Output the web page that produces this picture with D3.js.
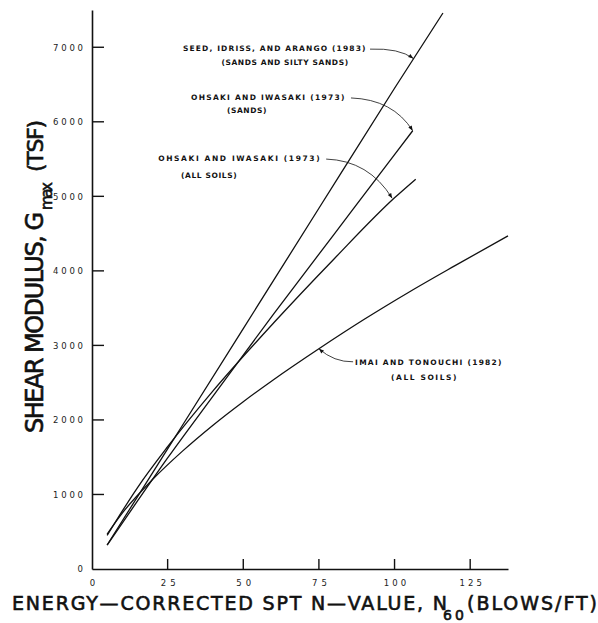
<!DOCTYPE html>
<html>
<head>
<meta charset="utf-8">
<script src="https://cdn.jsdelivr.net/npm/d3@7"></script>
<style>
  html, body { margin: 0; padding: 0; background: #fff; }
  svg { display: block; }
  .tick text { font-family: "DejaVu Sans", sans-serif; font-size: 8.5px; fill: #222; }
  .note { font-family: "DejaVu Sans", sans-serif; font-size: 7.5px; font-weight: bold; fill: #111; letter-spacing: 0.6px; }
  .title { font-family: "DejaVu Sans", sans-serif; fill: #111; stroke: #111; stroke-width: 0.6px; }
</style>
</head>
<body>
<div id="chart"></div>
<script>
// sizes
const WIDTH = 598;
const HEIGHT = 623;
const X0 = 92, X1 = 508;   // x axis pixel range
const Y0 = 569, Y1 = 10;   // y axis pixel range

// data (N60 in blows/ft, Gmax in tsf)
const xTicks = [0, 25, 50, 75, 100, 125];
const yTicks = [0, 1000, 2000, 3000, 4000, 5000, 6000, 7000];

const nSeed = [5, 25, 50, 75, 100, 116];
const gSeed = [322, 1612, 3225, 4840, 6450, 7460];

const nSands = [5, 15, 25, 40, 60, 80, 100, 106];
const gSands = [320, 910, 1490, 2320, 3420, 4490, 5560, 5880];

const nAll = [5, 15, 25, 40, 60, 80, 100, 107];
const gAll = [450, 1090, 1640, 2390, 3300, 4160, 4980, 5230];

const nImai = [5, 10, 20, 30, 40, 50, 60, 75, 90, 105, 120, 137.5];
const gImai = [469, 750, 1200, 1585, 1930, 2245, 2540, 2955, 3350, 3720, 4070, 4470];

const series = [
  { name: "seed", n: nSeed, g: gSeed },
  { name: "sands", n: nSands, g: gSands },
  { name: "all", n: nAll, g: gAll },
  { name: "imai", n: nImai, g: gImai }
];

// labels with leaders: start of leader, control point, tip (all in data units)
// text offsets are in pixels from the leader start
const notes = [
  { lines: ["SEED, IDRISS, AND ARANGO (1983)", "(SANDS AND SILTY SANDS)"],
    start: [91.9, 6975], ctrl: [101.5, 6990], tip: [106.2, 6850],
    text: [{ x: -4, y: 2, w: 183, anchor: "end" }, { x: -85, y: 16, anchor: "middle" }] },
  { lines: ["OHSAKI AND IWASAKI (1973)", "(SANDS)"],
    start: [85.6, 6320], ctrl: [99.5, 6300], tip: [106, 5880],
    text: [{ x: -6, y: 2, w: 154, anchor: "end" }, { x: -104, y: 15, anchor: "middle" }] },
  { lines: ["OHSAKI AND IWASAKI (1973)", "(ALL SOILS)"],
    start: [77.4, 5500], ctrl: [91.5, 5480], tip: [99.2, 4975],
    text: [{ x: -6, y: 2, w: 162, anchor: "end" }, { x: -117, y: 19, anchor: "middle" }] },
  { lines: ["IMAI AND TONOUCHI (1982)", "(ALL SOILS)"],
    start: [86.3, 2780], ctrl: [80, 2775], tip: [75, 2955],
    text: [{ x: 2, y: 3, w: 147, anchor: "start" }, { x: 71, y: 18, w: 66, anchor: "middle" }] }
];

const svg = d3
  .select("#chart")
  .append("svg")
  .attr("width", WIDTH)
  .attr("height", HEIGHT);

const x = d3.scaleLinear().domain([0, 137.5]).range([X0, X1]);
const y = d3.scaleLinear().domain([0, 7500]).range([Y0, Y1]);

// arrow head
svg.append("defs")
  .append("marker")
  .attr("id", "arrow")
  .attr("viewBox", "0 0 10 10")
  .attr("refX", 10)
  .attr("refY", 5)
  .attr("markerWidth", 7)
  .attr("markerHeight", 5)
  .attr("markerUnits", "userSpaceOnUse")
  .attr("orient", "auto")
  .append("path")
  .attr("d", "M0,1 L10,5 L0,9 z")
  .attr("fill", "#111");

// axes: labels from d3.axis, inward tick marks drawn separately
const fmt = d3.format("d");
const xAxis = d3.axisBottom(x).tickValues(xTicks).tickFormat(fmt)
  .tickSize(0).tickPadding(11);
const yAxis = d3.axisLeft(y).tickValues(yTicks).tickFormat(fmt)
  .tickSize(0).tickPadding(9);

const gx = svg.append("g").attr("transform", `translate(0,${Y0})`).call(xAxis);
const gy = svg.append("g").attr("transform", `translate(${X0},0)`).call(yAxis);

[gx, gy].forEach(g => {
  g.select(".domain").attr("stroke", "#111").attr("stroke-width", 1.6);
  g.selectAll(".tick text").each(function(d) {
    const s = fmt(d);
    if (s.length > 1) d3.select(this).attr("textLength", s.length * 7.5).attr("lengthAdjust", "spacing");
  });
});

const tickG = svg.append("g").attr("stroke", "#111").attr("stroke-width", 1.4);
tickG.selectAll("line.xt")
  .data(xTicks.filter(d => d > 0))
  .enter()
  .append("line")
  .attr("x1", d => x(d)).attr("x2", d => x(d))
  .attr("y1", Y0).attr("y2", Y0 - 10);
tickG.selectAll("line.yt")
  .data(yTicks.filter(d => d > 0))
  .enter()
  .append("line")
  .attr("x1", X0).attr("x2", X0 + 12)
  .attr("y1", d => y(d)).attr("y2", d => y(d));

// curves
const line = d3.line()
  .x(d => x(d[0]))
  .y(d => y(d[1]))
  .curve(d3.curveMonotoneX);

svg.append("g")
  .selectAll("path")
  .data(series)
  .enter()
  .append("path")
  .attr("d", s => line(s.n.map((n, i) => [n, s.g[i]])))
  .attr("fill", "none")
  .attr("stroke", "#111")
  .attr("stroke-width", 1.3);

// annotations
const notesG = svg.append("g");
notes.forEach(nt => {
  const sx = x(nt.start[0]), sy = y(nt.start[1]);
  notesG.append("path")
    .attr("d", `M${sx},${sy} Q${x(nt.ctrl[0])},${y(nt.ctrl[1])} ${x(nt.tip[0])},${y(nt.tip[1])}`)
    .attr("fill", "none")
    .attr("stroke", "#111")
    .attr("stroke-width", 0.8)
    .attr("marker-end", "url(#arrow)");
  nt.lines.forEach((t, i) => {
    const p = nt.text[i];
    const el = notesG.append("text")
      .attr("class", "note")
      .attr("x", sx + p.x)
      .attr("y", sy + p.y)
      .attr("text-anchor", p.anchor)
      .text(t);
    if (p.w) el.attr("textLength", p.w).attr("lengthAdjust", "spacing");
  });
});

// x axis title with N60 subscript
const xt = svg.append("g").attr("class", "title");
xt.append("text")
  .attr("x", 12).attr("y", 610)
  .attr("font-size", 19)
  .attr("textLength", 435).attr("lengthAdjust", "spacing")
  .text("ENERGY\u2014CORRECTED SPT N\u2014VALUE, N");
xt.append("text")
  .attr("x", 443).attr("y", 620)
  .attr("font-size", 14)
  .attr("textLength", 21).attr("lengthAdjust", "spacing")
  .text("60");
xt.append("text")
  .attr("x", 467).attr("y", 610)
  .attr("font-size", 19)
  .attr("textLength", 130).attr("lengthAdjust", "spacing")
  .text("(BLOWS/FT)");

// y axis title with Gmax subscript, rotated
const yt = svg.append("g").attr("class", "title").attr("transform", "rotate(-90)");
yt.append("text")
  .attr("x", -433).attr("y", 43)
  .attr("font-size", 24)
  .attr("textLength", 221).attr("lengthAdjust", "spacing")
  .text("SHEAR MODULUS, G");
yt.append("text")
  .attr("x", -210).attr("y", 52)
  .attr("font-size", 15)
  .attr("textLength", 28).attr("lengthAdjust", "spacing")
  .text("max");
yt.append("text")
  .attr("x", -172).attr("y", 43)
  .attr("font-size", 22)
  .attr("textLength", 52).attr("lengthAdjust", "spacing")
  .text("(TSF)");
</script>
</body>
</html>
